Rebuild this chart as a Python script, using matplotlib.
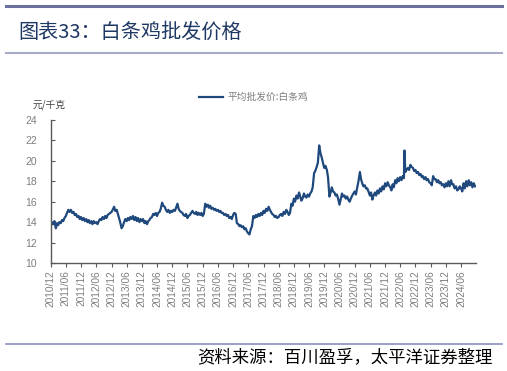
import numpy as np
import pandas as pd
import matplotlib
matplotlib.use('Agg')
import matplotlib.pyplot as plt
from matplotlib.lines import Line2D

plt.rcParams['font.family'] = ['Noto Sans CJK SC', 'DejaVu Sans']

# semi-monthly readings (1st and 15th), yuan/kg
p2010 = [13.5, 14.0]
p2011 = [13.8, 14.1, 13.4, 13.9, 13.7, 14.0, 13.9, 14.2, 14.1, 14.4, 14.6, 14.9,
         15.2, 15.0, 15.2, 14.9, 15.0, 14.7, 14.8, 14.5, 14.6, 14.3, 14.5, 14.2]
p2012 = [14.4, 14.1, 14.3, 14.0, 14.2, 13.9, 14.1, 13.8, 14.1, 13.9, 14.0, 13.8,
         14.1, 14.3, 14.2, 14.5, 14.3, 14.6, 14.4, 14.7, 14.8, 14.9, 15.0, 15.2]
p2013 = [15.5, 15.1, 15.2, 14.8, 14.4, 14.0, 13.4, 13.6, 14.0, 14.3, 14.1, 14.4,
         14.2, 14.5, 14.3, 14.6, 14.2, 14.5, 14.1, 14.4, 14.0, 14.3, 14.1, 14.3]
p2014 = [13.9, 14.1, 13.8, 14.1, 14.2, 14.4, 14.5, 14.8, 14.7, 14.9, 14.6, 14.9,
         15.0, 15.3, 15.9, 15.6, 15.5, 15.2, 15.0, 15.2, 14.9, 15.1, 15.0, 15.2]
p2015 = [15.1, 15.4, 15.8, 15.3, 15.1, 15.0, 14.9, 14.7, 14.6, 14.8, 14.4, 14.6,
         14.7, 14.9, 15.1, 14.9, 14.8, 15.0, 14.7, 14.9, 14.7, 14.9, 14.6, 14.8]
p2016 = [15.8, 15.5, 15.7, 15.4, 15.6, 15.3, 15.4, 15.2, 15.3, 15.1, 15.2, 15.0,
         15.1, 14.9, 14.9, 14.7, 14.8, 14.6, 14.7, 14.4, 14.5, 14.3, 14.7, 14.9]
p2017 = [14.8, 13.9, 13.8, 13.6, 13.7, 13.5, 13.6, 13.3, 13.4, 13.1, 12.9, 12.8,
         13.3, 13.6, 14.6, 14.4, 14.7, 14.5, 14.8, 14.6, 14.9, 14.7, 15.1, 14.9]
p2018 = [15.3, 15.1, 15.5, 15.2, 15.0, 14.8, 14.7, 14.5, 14.6, 14.4, 14.5, 14.7,
         14.8, 14.6, 15.0, 14.8, 15.2, 15.0, 14.7, 14.9, 15.8, 15.6, 16.3, 16.0]
p2019 = [16.6, 16.3, 16.9, 16.5, 16.1, 16.3, 16.8, 16.5, 16.4, 16.7, 16.5, 16.8,
         17.0, 17.4, 18.8, 19.0, 19.4, 19.8, 21.5, 20.8, 20.3, 19.8, 19.3, 19.5]
p2020 = [19.1, 18.4, 16.5, 16.9, 17.4, 17.0, 16.9, 16.6, 16.7, 16.3, 15.7, 16.2,
         16.8, 16.5, 16.6, 16.3, 16.5, 16.2, 16.0, 16.3, 16.6, 16.8, 17.0, 16.7]
p2021 = [17.4, 18.0, 18.9, 18.2, 17.8, 17.5, 17.6, 17.3, 17.3, 17.0, 16.6, 16.9,
         16.2, 16.6, 16.9, 16.6, 17.1, 16.8, 17.3, 17.0, 17.5, 17.2, 17.8, 17.5]
p2022 = [17.9, 17.6, 17.4, 17.1, 17.7, 17.4, 18.1, 17.8, 18.3, 18.0, 18.4, 18.1,
         18.5, 18.3, 18.9, 19.1, 19.3, 19.1, 19.6, 19.4, 19.3, 19.0, 19.1, 18.8]
p2023 = [18.9, 18.6, 18.7, 18.4, 18.5, 18.2, 18.4, 18.1, 18.2, 17.9, 17.8, 17.6,
         18.5, 18.2, 18.2, 17.9, 18.1, 17.8, 17.9, 17.6, 17.7, 17.4, 17.8, 17.5]
p2024 = [18.0, 17.5, 18.1, 17.7, 17.7, 17.3, 17.5, 17.1, 17.2, 17.5, 17.3, 17.0,
         17.8, 17.3, 18.0, 17.5, 18.1, 17.6, 17.9, 17.4, 17.8, 17.5]

spike_dates = ['2022-07-22']
spike_values = [21.0]

values = p2010 + p2011 + p2012 + p2013 + p2014 + p2015 + p2016 + p2017 + \
    p2018 + p2019 + p2020 + p2021 + p2022 + p2023 + p2024
dates = pd.date_range('2010-12-01', '2024-11-15', freq='SMS')
s = pd.Series(values, index=dates)
s = pd.concat([s, pd.Series(spike_values, index=pd.to_datetime(spike_dates))]).sort_index()

tick_dates = pd.date_range('2010-12-01', '2024-06-01', freq='6MS')
tick_labels = [d.strftime('%Y/%m') for d in tick_dates]

fig = plt.figure(figsize=(5.07, 3.71), dpi=100)
ax = fig.add_axes([0.100, 0.291, 0.839, 0.386])

ax.plot(s.index, s.values, color='#1F497D', lw=1.6, label='平均批发价:白条鸡')

ax.set_ylim(10, 24)
ax.set_yticks(range(10, 25, 2))
ax.set_xlim(pd.Timestamp('2010-12-01'), pd.Timestamp('2024-11-28'))
ax.set_xticks(tick_dates)
ax.set_xticklabels(tick_labels, rotation=90)

for sp in ['top', 'right']:
    ax.spines[sp].set_visible(False)
for sp in ['left', 'bottom']:
    ax.spines[sp].set_color('#595959')
    ax.spines[sp].set_linewidth(1.0)
ax.tick_params(axis='y', direction='in', length=3, color='#595959', pad=10,
               labelsize=7.5, labelcolor='#7f7f7f')
ax.tick_params(axis='x', direction='out', length=3, color='#595959', pad=2,
               labelsize=7.3, labelcolor='#7f7f7f')
for lab in ax.get_xticklabels() + ax.get_yticklabels():
    lab.set_fontfamily('Liberation Sans')

fig.legend(loc='center', bbox_to_anchor=(0.5, 1 - 97 / 371), frameon=False,
           fontsize=7, handlelength=2.5, handletextpad=0.4, labelcolor='#7f7f7f')

fig.text(33 / 507, 1 - 105 / 371, '元/千克', fontsize=7, color='#404040', va='center')

fig.text(18 / 507, 1 - 32 / 371, '图表33：白条鸡批发价格', fontsize=14.5,
         color='#1F3864', va='center', ha='left', fontweight='light')

fig.add_artist(Line2D([6 / 507, 502 / 507], [1 - 6 / 371, 1 - 6 / 371],
                      transform=fig.transFigure, color='#6C6E9E', lw=2.2))
fig.add_artist(Line2D([6 / 507, 502 / 507], [1 - 53 / 371, 1 - 53 / 371],
                      transform=fig.transFigure, color='#A8AACB', lw=1.5))
fig.add_artist(Line2D([6 / 507, 502 / 507], [1 - 344 / 371, 1 - 344 / 371],
                      transform=fig.transFigure, color='#8A8CC4', lw=1.2))

fig.text(493 / 507, 1 - 357 / 371, '资料来源：百川盈孚，太平洋证券整理', fontsize=12.5,
         color='#000000', va='center', ha='right', style='italic', fontweight='light')

fig.savefig('out.png', dpi=100)
